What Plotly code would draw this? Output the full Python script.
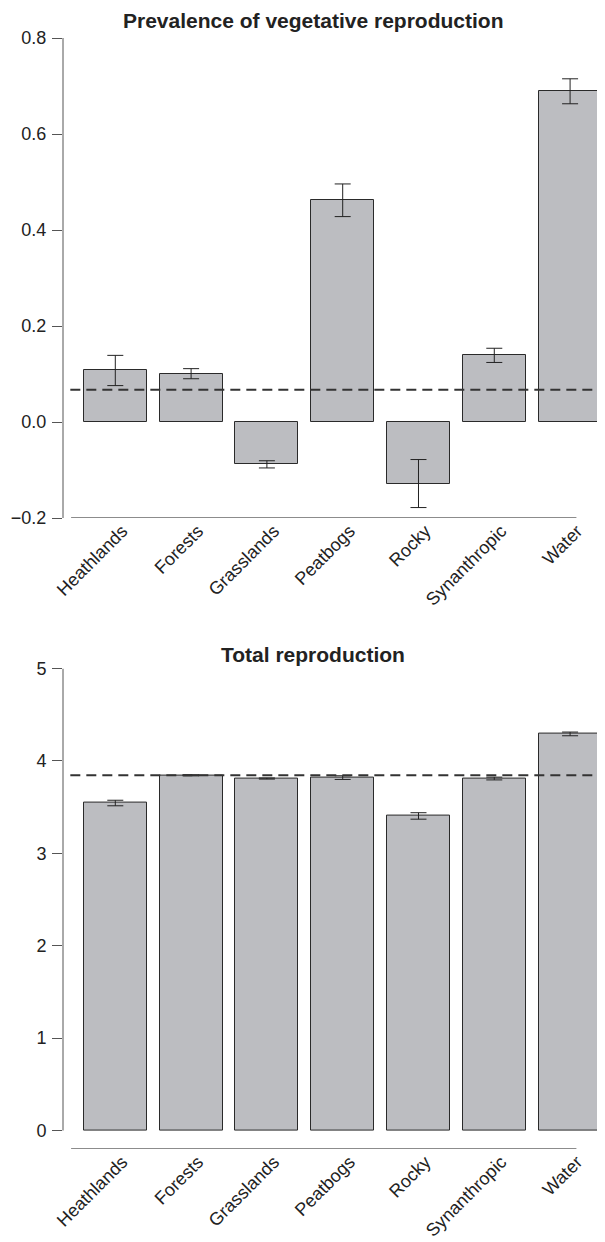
import plotly.graph_objects as go
from plotly.subplots import make_subplots

# ---------------- data ----------------
habitats = ["Heathlands", "Forests", "Grasslands", "Peatbogs", "Rocky", "Synanthropic", "Water"]

veg_values = [0.1075, 0.1008, -0.088, 0.462, -0.128, 0.139, 0.689]
veg_errors = [0.0315, 0.0105, 0.0075, 0.034, 0.050, 0.0148, 0.026]
veg_mean = 0.0675

total_values = [3.545, 3.845, 3.81, 3.82, 3.405, 3.81, 4.293]
total_errors = [0.03, 0.006, 0.006, 0.02, 0.035, 0.015, 0.02]
total_mean = 3.845

veg_ticks = [-0.2, 0.0, 0.2, 0.4, 0.6, 0.8]
veg_ticktext = ["\u22120.2", "0.0", "0.2", "0.4", "0.6", "0.8"]
total_ticks = [0, 1, 2, 3, 4, 5]

titles = ["Prevalence of vegetative reproduction", "Total reproduction"]

# R barplot-style positions (width 1, space 0.2)
centers = [0.7 + 1.2 * i for i in range(len(habitats))]

FONT = "Liberation Sans, Arial, Helvetica, sans-serif"
BAR_FILL = "#bcbdc1"
BAR_LINE = "#2a2a2a"
AXIS_COL = "#555555"

fig = make_subplots(rows=2, cols=1)

fig.add_trace(go.Bar(
    x=centers, y=veg_values, width=1.0,
    marker=dict(color=BAR_FILL, line=dict(color=BAR_LINE, width=1)),
    error_y=dict(type="data", array=veg_errors, color="#222222", thickness=1, width=8),
    showlegend=False), row=1, col=1)

fig.add_trace(go.Bar(
    x=centers, y=total_values, width=1.0,
    marker=dict(color=BAR_FILL, line=dict(color=BAR_LINE, width=1)),
    error_y=dict(type="data", array=total_errors, color="#222222", thickness=1, width=8),
    showlegend=False), row=2, col=1)

# geometry (page body has an 8px margin, so layout pixels = screen pixels - 8)
OFF = 8
W, H = 605 - OFF, 1242 - OFF
left, right, top, bottom = 62.7 - OFF, 0, 38.3 - OFF, 92.5
ph = H - top - bottom
def py(p):
    # p: screen pixel (from top) -> paper fraction
    return (H - bottom - (p - OFF)) / ph

pxu = 63.2
xrange_ = [-0.128, -0.128 + (W - left - right) / pxu]

common_x = dict(range=xrange_, tickmode="array", tickvals=centers, ticktext=habitats,
                tickangle=-45, showline=False, showgrid=False, zeroline=False, ticks="",
                ticklabelstandoff=-2, ticklabelshift=7,
                tickfont=dict(family=FONT, size=18, color="#222222"))
fig.update_xaxes(**common_x, row=1, col=1)
fig.update_xaxes(**common_x, row=2, col=1)

common_y = dict(showline=False, showgrid=False, zeroline=False, ticks="outside",
                ticklen=10, tickwidth=1, tickcolor=AXIS_COL, ticklabelstandoff=2,
                tickfont=dict(family=FONT, size=18, color="#222222"))
fig.update_yaxes(**common_y, range=[-0.2, 0.8], tickmode="array", tickvals=veg_ticks,
                 ticktext=veg_ticktext, domain=[py(518.5), py(38.3)], row=1, col=1)
fig.update_yaxes(**common_y, range=[-0.2, 5.0], tickmode="array", tickvals=total_ticks,
                 domain=[py(1149.5), py(669)], row=2, col=1)

shapes = []
# y axis lines (R style, between first and last tick)
shapes.append(dict(type="line", xref="x domain", yref="y", x0=0, x1=0, y0=-0.2, y1=0.8,
                   line=dict(color=AXIS_COL, width=1)))
shapes.append(dict(type="line", xref="x2 domain", yref="y2", x0=0, x1=0, y0=0, y1=5,
                   line=dict(color=AXIS_COL, width=1)))
# x axis lines
shapes.append(dict(type="line", xref="x", yref="y", x0=0, x1=8, y0=-0.2, y1=-0.2,
                   line=dict(color="#8c8c8c", width=2)))
shapes.append(dict(type="line", xref="x2", yref="y2", x0=0, x1=8, y0=-0.2, y1=-0.2,
                   line=dict(color="#8c8c8c", width=2)))
# mean dashed lines
shapes.append(dict(type="line", xref="x domain", yref="y", x0=0.0135, x1=1, y0=veg_mean, y1=veg_mean,
                   line=dict(color="#333333", width=2, dash="10px,6px")))
shapes.append(dict(type="line", xref="x2 domain", yref="y2", x0=0.0135, x1=1, y0=total_mean, y1=total_mean,
                   line=dict(color="#333333", width=2, dash="10px,6px")))

title_x = (313 - OFF - left) / (W - left - right)
annotations = [
    dict(text="<b>%s</b>" % titles[0], xref="paper", yref="paper", x=title_x, y=py(21),
         xanchor="center", yanchor="middle", showarrow=False,
         font=dict(family=FONT, size=21, color="#222222")),
    dict(text="<b>%s</b>" % titles[1], xref="paper", yref="paper", x=title_x, y=py(655),
         xanchor="center", yanchor="middle", showarrow=False,
         font=dict(family=FONT, size=21, color="#222222")),
]

fig.update_layout(
    width=W, height=H,
    margin=dict(l=left, r=right, t=top, b=bottom, autoexpand=False),
    paper_bgcolor="white", plot_bgcolor="white",
    shapes=shapes, annotations=annotations,
    bargap=0, showlegend=False,
    font=dict(family=FONT),
)

fig.write_html("out.html")
